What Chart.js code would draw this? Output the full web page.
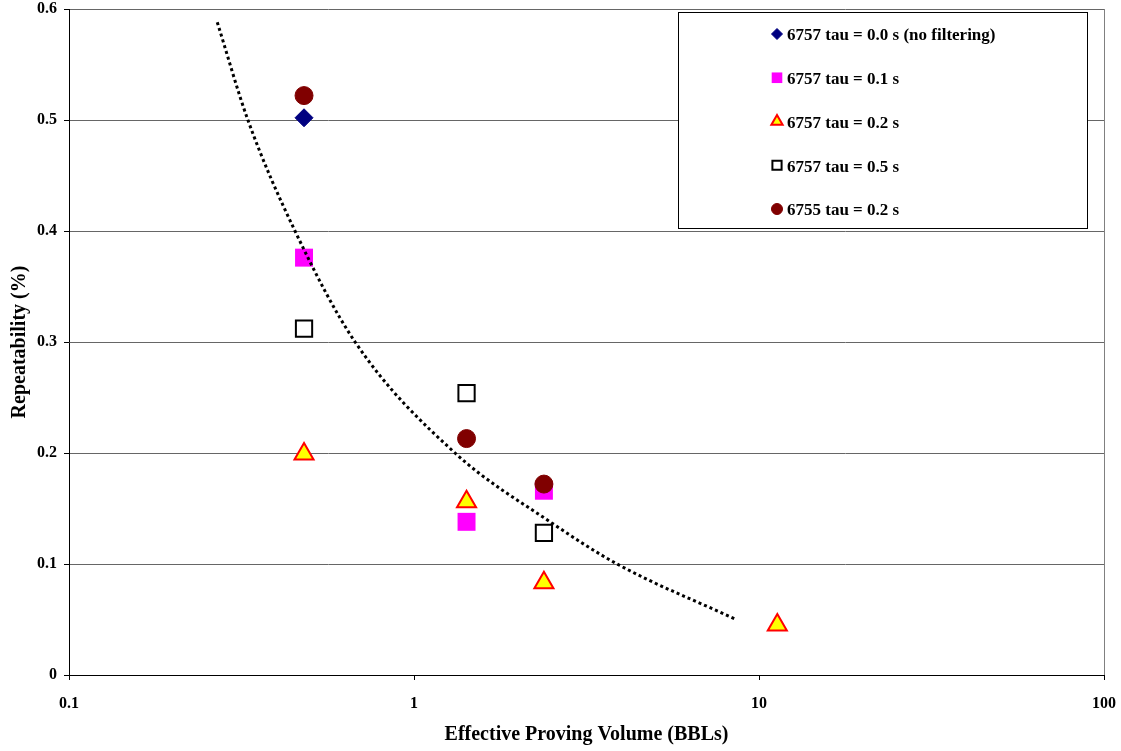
<!DOCTYPE html>
<html>
<head>
<meta charset="utf-8">
<script src="https://cdn.jsdelivr.net/npm/chart.js@4.4.0/dist/chart.umd.min.js"></script>
<style>
  html, body { margin: 0; padding: 0; background: #fff; }
  #wrap { width: 1121px; height: 751px; }
</style>
</head>
<body>
<div id="wrap"><canvas id="chart" width="1121" height="751"></canvas></div>
<script>
// values
const seriesNames = [
  '6757 tau = 0.0 s (no filtering)',
  '6757 tau = 0.1 s',
  '6757 tau = 0.2 s',
  '6757 tau = 0.5 s',
  '6755 tau = 0.2 s'
];
const tau00X = [0.48];
const tau00Y = [0.502];
const tau01X = [0.48, 1.42, 2.38];
const tau01Y = [0.376, 0.138, 0.166];
const tau02X = [0.48, 1.42, 2.38, 11.3];
const tau02Y = [0.199, 0.156, 0.083, 0.045];
const tau05X = [0.48, 1.42, 2.38];
const tau05Y = [0.312, 0.254, 0.128];
const t6755X = [0.48, 1.42, 2.38];
const t6755Y = [0.522, 0.213, 0.172];
// dotted power trend line
const trendX = [0.269, 0.330, 0.452, 0.675, 1.315, 2.48, 3.88, 8.52];
const trendY = [0.588, 0.500, 0.400, 0.300, 0.200, 0.138, 0.100, 0.0505];
const xTicks = [0.1, 1, 10, 100];

const FONT = "'Liberation Serif', 'Times New Roman', serif";
const pts = (xs, ys) => xs.map((x, i) => ({ x, y: ys[i] }));
const noPad = () => ({ left: 0, top: 0, right: 0, bottom: 0 });

const markers = [
  { pointStyle: 'rectRot', fill: '#000080', stroke: '#000080', radius: 9, border: 1, lr: 5.5 },
  { pointStyle: 'rect', fill: '#ff00ff', stroke: '#ff00ff', radius: 12.7, border: 0, lr: 7.5 },
  { pointStyle: 'triangle', fill: '#ffff00', stroke: '#ff0000', radius: 11, border: 2, lr: 6.5 },
  { pointStyle: 'rect', fill: '#ffffff', stroke: '#000000', radius: 11.5, border: 2, lr: 6.5 },
  { pointStyle: 'circle', fill: '#800000', stroke: '#800000', radius: 9, border: 1, lr: 5.5 }
];
const seriesData = [
  pts(tau00X, tau00Y), pts(tau01X, tau01Y), pts(tau02X, tau02Y),
  pts(tau05X, tau05Y), pts(t6755X, t6755Y)
];

const datasets = seriesData.map((d, i) => ({
  label: seriesNames[i],
  data: d,
  showLine: false,
  pointStyle: markers[i].pointStyle,
  pointRadius: markers[i].radius,
  pointHoverRadius: markers[i].radius,
  pointBackgroundColor: markers[i].fill,
  pointBorderColor: markers[i].stroke,
  pointBorderWidth: markers[i].border,
  order: 5 - i
}));
datasets.push({
  label: 'trend',
  data: pts(trendX, trendY),
  showLine: true,
  borderColor: '#000',
  borderWidth: 3,
  borderDash: [3, 3],
  pointRadius: 0,
  cubicInterpolationMode: 'monotone',
  fill: false,
  order: 0
});

// legend box drawn inside the plot, plus the grey plot frame on the right
const boxLegend = {
  id: 'boxLegend',
  beforeDatasetsDraw(chart) {
    const { ctx, chartArea: a } = chart;
    ctx.save();
    ctx.strokeStyle = '#808080';
    ctx.lineWidth = 1;
    ctx.beginPath();
    ctx.moveTo(a.right + 0.5, a.top);
    ctx.lineTo(a.right + 0.5, a.bottom);
    ctx.stroke();
    ctx.restore();
  },
  afterDraw(chart) {
    const { ctx } = chart;
    const bx = 678, by = 12, bw = 409, bh = 216;
    ctx.save();
    ctx.fillStyle = '#fff';
    ctx.fillRect(bx, by, bw, bh);
    ctx.strokeStyle = '#000';
    ctx.lineWidth = 1;
    ctx.strokeRect(bx + 0.5, by + 0.5, bw, bh);
    ctx.font = 'bold 17px ' + FONT;
    ctx.textBaseline = 'middle';
    seriesNames.forEach((name, i) => {
      const y = 35 + i * 43.75;
      const m = markers[i];
      ctx.fillStyle = m.fill;
      ctx.strokeStyle = m.stroke;
      ctx.lineWidth = m.border;
      Chart.helpers.drawPoint(ctx, { pointStyle: m.pointStyle, radius: m.lr, rotation: 0, borderWidth: m.border }, 777, y - 1);
      ctx.fillStyle = '#000';
      ctx.fillText(name, 787, y + 1);
    });
    ctx.restore();
  }
};

new Chart(document.getElementById('chart'), {
  type: 'scatter',
  data: { datasets },
  plugins: [boxLegend],
  options: {
    responsive: false,
    animation: false,
    events: [],
    layout: { autoPadding: false, padding: { top: 9, right: 17, left: 0, bottom: 0 } },
    plugins: { legend: { display: false }, tooltip: { enabled: false } },
    scales: {
      x: {
        type: 'logarithmic',
        min: 0.1, max: 100,
        afterBuildTicks: s => { s.ticks = xTicks.map(v => ({ value: v })); },
        afterFit: s => { s.height = 76; s.paddingLeft = 0; s.paddingRight = 0; s.getPadding = noPad; },
        ticks: {
          color: '#000',
          font: { family: FONT, size: 16, weight: 'bold' },
          padding: 14,
          maxRotation: 0,
          autoSkip: false,
          callback: v => String(v)
        },
        grid: { drawOnChartArea: false, drawTicks: true, tickLength: 5, tickColor: '#000' },
        border: { display: true, color: '#000', width: 1 },
        title: {
          display: true,
          text: 'Effective Proving Volume (BBLs)',
          color: '#000',
          font: { family: FONT, size: 20, weight: 'bold' },
          padding: { top: 0, bottom: 4 }
        }
      },
      y: {
        min: 0, max: 0.6,
        afterFit: s => { s.width = 69; s.paddingTop = 0; s.paddingBottom = 0; s.getPadding = noPad; },
        ticks: {
          stepSize: 0.1,
          color: '#000',
          font: { family: FONT, size: 16, weight: 'bold' },
          padding: 7,
          callback: v => String(Number(v.toFixed(1)))
        },
        grid: {
          color: ctx => ctx.tick && ctx.tick.value === 0 ? 'rgba(0,0,0,0)' : '#666',
          tickColor: '#000',
          tickLength: 5,
          lineWidth: 1
        },
        border: { display: true, color: '#000', width: 1 },
        title: {
          display: true,
          text: 'Repeatability (%)',
          color: '#000',
          font: { family: FONT, size: 20, weight: 'bold' },
          padding: { top: 8, bottom: 0 }
        }
      }
    }
  }
});
</script>
</body>
</html>
